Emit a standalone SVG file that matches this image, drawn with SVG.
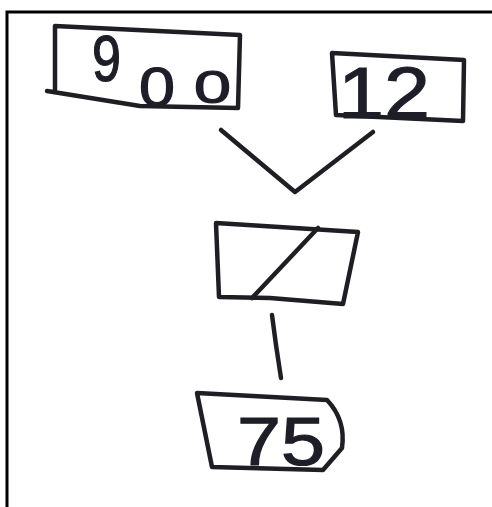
<svg xmlns="http://www.w3.org/2000/svg" width="492" height="507" viewBox="0 0 492 507">
<style>
.box{fill:none;stroke:#1e1e24;stroke-width:4.5;stroke-linejoin:round;stroke-linecap:round}
.line{fill:none;stroke:#1e1e24;stroke-width:4.5;stroke-linecap:round;stroke-linejoin:round}
.t{font-family:"Liberation Sans",Arial,sans-serif;fill:#1e1e28;stroke:#1e1e28;stroke-width:1.2;font-weight:normal}
</style>
<rect width="492" height="507" fill="#ffffff"/>
<path d="M7 507 V12 H492" fill="none" stroke="#000" stroke-width="3"/>
<g id="n900">
<path class="box" d="M55 26 L240 35 L238 108 L140 106 L47 91 M55 26 L55 90"/>
<text class="t" x="92" y="81" font-size="64" textLength="29" lengthAdjust="spacingAndGlyphs">9</text>
<text class="t" x="139" y="106" font-size="56" textLength="36" lengthAdjust="spacingAndGlyphs">0</text>
<text class="t" x="194" y="103" font-size="46" textLength="37" lengthAdjust="spacingAndGlyphs">0</text>
</g>
<g id="n12">
<path class="box" d="M332 53 L464 60 L463 121 L400 118 L336 115 Z"/>
<text class="t" x="338" y="118" font-size="72" textLength="92" lengthAdjust="spacingAndGlyphs">12</text>
</g>
<g id="ndiv">
<path class="box" d="M216 223 L358 232 L343 304 L270 298 L219 297 Z"/>
<path class="line" d="M318 228 L252 298"/>
</g>
<g id="n75">
<path class="box" d="M197 393 L327 400 Q346 420 342 448 L323 470 L212 467 Z"/>
<text class="t" x="237" y="465" font-size="68" textLength="88" lengthAdjust="spacingAndGlyphs">75</text>
</g>
<g id="connectors">
<path class="line" d="M221 130 L295 192 L373 132"/>
<path class="line" d="M272 315 L276 345 L281 378"/>
</g>
</svg>
